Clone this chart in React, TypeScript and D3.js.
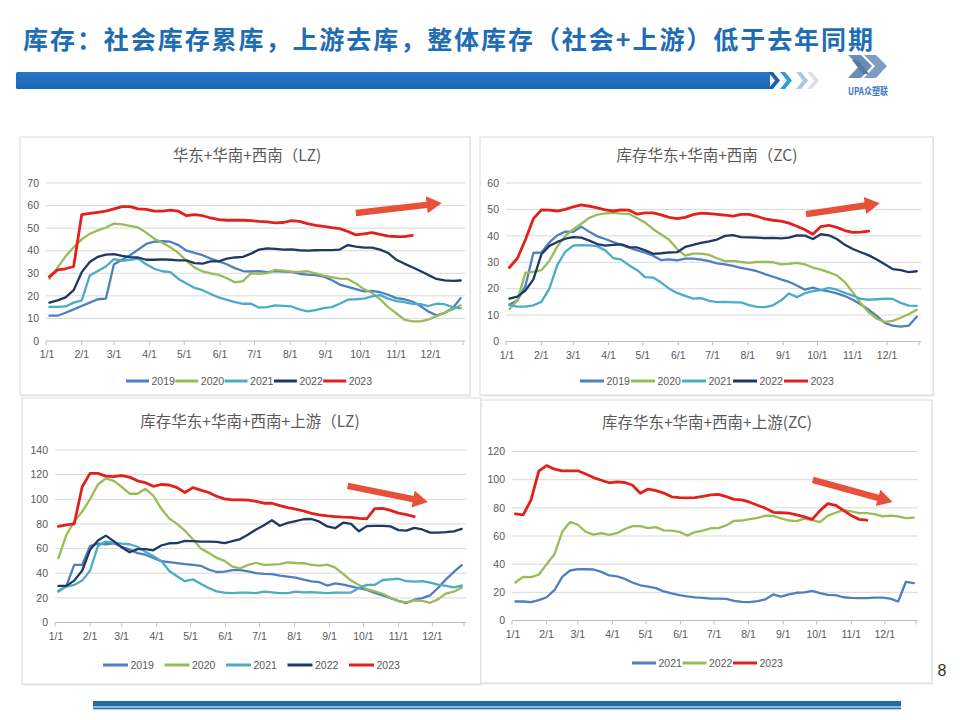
import React from "react";
import * as d3 from "d3";

// ---------- data ----------
const monthDays = [0, 31, 59, 90, 120, 151, 181, 212, 243, 273, 304, 334];
const monthLabels = ["1/1", "2/1", "3/1", "4/1", "5/1", "6/1", "7/1", "8/1", "9/1", "10/1", "11/1", "12/1"];
const firstWeekDay = 3;
const weekStep = 7;

const headerTitle = "库存：社会库存累库，上游去库，整体库存（社会+上游）低于去年同期";
const logoText = "UPA众塑联";
const pageNumber = "8";

const titleLZ = "华东+华南+西南（LZ)";
const titleZC = "库存华东+华南+西南（ZC)";
const titleLZU = "库存华东+华南+西南+上游（LZ)";
const titleZCU = "库存华东+华南+西南+上游(ZC)";

const yearsFive = ["2019", "2020", "2021", "2022", "2023"];
const yearsThree = ["2021", "2022", "2023"];

// 华东+华南+西南 (LZ)
const lz2019 = [11.2,11.2,12.5,14,15.5,17,18.5,18.8,34,36,38,40.5,43,44,44.2,44,42.5,40,39,38,36.5,35.3,34,32.3,31,30.8,31,30.5,31,30.8,30.6,29.8,29.4,29.2,28.5,27,25,24,23,22,22.2,21.6,20.5,19,18.5,17.5,15.5,13,11.4,12.5,14.5,19];
const lz2020 = [27.6,32.5,37.5,41.5,45,47.5,49,50.3,52,51.7,51,50.3,48,45.3,43.5,41.5,39,35.5,32.5,30.8,30,29.3,27.8,26,26.5,30,29.8,30.1,31.5,31.2,30.7,30.6,30.9,30,29,28.3,27.6,27.5,25.5,23,21.3,18.5,15,12.3,9.5,8.7,8.7,9.5,11,12.5,14,15.8];
const lz2021 = [15.1,15.1,15.3,17,18,29,31,33,36.3,35.5,36,36.5,34,32,30.9,30.5,27.5,25.5,23.5,22.5,20.8,19.3,18.2,17.2,16.5,16.5,14.8,15,15.8,15.6,15.3,14,13.1,13.7,14.6,15,16.5,18.3,18.5,18.8,19.8,20.3,18.8,17.7,17.2,16.5,16.3,15.5,16.5,16.3,15,14.5];
const lz2022 = [17,18,19.3,22.5,30.5,35,37.3,38.3,38.5,37.7,37.2,37,36,36,36.2,36,35.7,35.7,34.5,34.3,35.3,35.3,36.5,37,37.3,38.7,40.5,41,40.8,40.5,40.6,40.2,40,40.2,40.3,40.3,40.5,42.5,41.8,41.4,41.4,40.5,39,36,34.3,32.7,31,29.2,27.5,26.9,26.6,26.8];
const lz2023 = [28.5,31.5,32,33,56,56.5,57,57.5,58.5,59.5,59.5,58.5,58.3,57.5,57.5,58,57.5,55.5,56,55.5,54.5,53.8,53.5,53.5,53.5,53.3,53,52.8,52.3,52.5,53.3,53,52,51.2,50.8,50.2,49.8,48.5,47,47.5,48,47.2,46.5,46.3,46.2,46.8];

// 库存华东+华南+西南 (ZC)
const zc2019 = [14,15.5,21,33.5,33.7,37.5,40.2,41.6,41.5,43.5,41.5,39.8,38.8,37.6,36.6,35.5,34.5,33.6,32.5,30.8,31.1,30.7,31.4,31.4,31,30.4,29.6,29.2,28.6,27.9,27.3,26.6,25.5,24.5,23.5,22.6,21.2,19.6,20.4,19.5,19,18.2,17.2,15.8,14,12,9.7,7,6,5.6,6,9.4];
const zc2020 = [12.2,15.5,26,26.4,27,30.5,36,40,42.5,44.6,46.8,48,48.5,48.7,48.4,48.3,46.7,45,42.5,40.5,38.5,35,32.5,33.3,33.3,32.8,31.5,30.4,30.5,30.1,29.8,30.1,30.1,30,29.2,29.4,29.8,29.2,28,27.2,26.2,25,22.5,18.6,14.5,11,8.6,7.4,7.8,9,10.3,12];
const zc2021 = [13.8,13.2,13.2,13.7,15,20,29,34,36.3,36.5,36.4,36.1,34.5,31.6,31,28.8,27,24.4,24.2,22.3,20,18.4,17.3,16.2,16.4,15.4,14.9,15,14.8,14.8,13.8,13.1,13,13.7,15.5,18.2,16.8,18.3,19.1,19.5,20.3,19.6,18.4,17.4,16.1,15.8,16,16.2,16.1,14.6,13.6,13.5];
const zc2022 = [16.2,17,19.3,23.5,33,36.2,37.7,38.9,39.5,39.3,38.2,36.9,36.3,36.6,36.8,35.7,35.6,34.5,33.2,33.4,33.7,33.8,35.8,36.6,37.3,37.9,38.6,40,40.3,39.5,39.4,39.3,39.1,39.2,39,39.3,40.2,40.1,38.8,40.6,40.2,38.8,36.6,35,33.8,32.6,31,29.2,27.4,27,26.3,26.6];
const zc2023 = [28,31.5,38.5,46.5,49.8,49.7,49.4,50,51,51.7,51.2,50.6,49.8,49.4,49.8,49.7,48.2,48.7,48.7,47.9,47,46.5,47,48,48.6,48.4,48.1,47.8,47.5,48.1,48.1,47.4,46.4,45.9,45.6,44.8,43.6,42.3,40.6,43.5,44,43.2,42,41.3,41.4,41.8];

// 库存华东+华南+西南+上游 (LZ)
const lzu2019 = [25.1,29.5,46.8,46.8,62,64,63.5,64.3,61.5,59.3,56.3,55,52.3,49.7,49,48.2,47.3,46.8,46,43,41,41.3,42.5,42.5,41.5,40,39.5,39.2,38,37.3,36.5,34.8,33.3,32.7,30,31.8,30.8,29.3,27.8,26.4,24,22,19.8,17.5,15.8,18.5,19.8,22,28,35,41,46.5];
const lzu2020 = [52.2,71,82,90,100,112,117,115,110,104.5,104.5,108.5,103,92.5,84.5,80,74.5,67.5,60,56.5,52.5,50,45.3,44,46.8,48.5,46.8,47,47.3,48.8,48.3,48.1,46.8,46.2,47,44.5,39.5,34,30.5,27,25.2,23.3,20,17.2,16.3,18,17.5,16,18.8,23.5,25,28.5];
const lzu2021 = [25.7,29.2,30.5,34,42,62,65.7,64.9,64,63.5,61.5,57.5,54,50,42,37.5,33.5,35,31.5,28,25.3,24.2,23.8,24.3,24.2,23.8,25,24.5,23.8,23.8,25,24.4,24.6,24.3,23.8,24.3,24.3,24.3,28,30.5,30.5,34.5,35,35.5,33.5,33.2,33.5,32.3,30.7,29.8,28.5,30];
const lzu2022 = [29.7,29.7,34,42,59,66.5,70.5,66,61,57,59.5,59.5,58.6,62.5,64.3,64.5,66.2,66,65.7,65.7,65.5,64.5,66,67.7,71.5,75.5,79,83,78.5,80.8,82.3,83.8,84,81.8,78,76.5,81,80,74,78.2,78.4,78.5,78,75,74.5,76.8,75.5,73,73,73.3,74,76];
const lzu2023 = [78,79.3,80,110,121,121,118.8,118.4,119.3,118,115,113.5,110.5,112,111.6,109.5,105.5,109.5,107.5,105.5,102.5,100.3,99.6,99.5,99.3,98.3,96.8,96.8,94.8,93.2,92,90.5,88.5,87.3,86.5,86,85.5,85.3,84.5,84.2,92.5,92.7,91,88.8,87.5,86];

// 库存华东+华南+西南+上游 (ZC)
const zcu2021 = [13.5,13.5,13,14.5,16.5,21.5,31,35.5,36.4,36.4,36.2,34.5,32,31.4,29.5,27,25,24.1,23,20.6,19.2,18,17.1,16.4,16,15.5,15.6,15.3,14,13.2,13,13.7,15,18.5,17,18.6,19.7,19.9,21,19.5,18.2,18,16.5,16,15.9,15.9,16.2,16.3,15.5,13.5,27.5,26.5];
const zcu2022 = [27,31,30.8,32.5,40,47,63,70,68,63,61,62,60.8,62,65,67,67,65.6,66.3,64,63.8,63,60.3,62.8,63.8,65.5,65.6,67.5,70.8,71,72,72.8,74.4,74.3,72.5,71,70.5,72.3,71.3,69.8,74.5,76.5,78.4,77.5,76.3,76.2,75.5,74,74.5,74,72.7,73];
const zcu2023 = [75.7,75,85.5,106,110,107.5,106.3,106.3,106.3,104,101.5,99.6,97.8,98.5,98,96,90.3,93.3,92.2,90.5,87.8,87.3,87,87.2,88.2,89.2,89.6,88,86,85.7,84,81.8,79.8,76.8,76.5,76.2,75,73.6,71.8,78,83,81.8,78.2,74.5,71.8,71.2];

// trend arrows [day, value] start -> end
const arrowLZ = [[269, 56.7], [343.5, 61.1]];
const arrowZC = [[263, 48.2], [327.7, 52.3]];
const arrowLZU = [[259, 110.8], [330, 97.8]];
const arrowZCU = [[269.5, 99.9], [341, 84.2]];

// ---------- styles / layout ----------
const C2019 = "#4F7FBF";
const C2020 = "#9BBB59";
const C2021 = "#4BACC6";
const C2022 = "#1F3864";
const C2023 = "#E3201C";
const ARROW = "#E8503A";
const TEXT_GRAY = "#595959";
const GRID = "#D9D9D9";

const panels = [
  {
    title: titleLZ, titleX: 247, titleY: 161,
    box: [20, 137, 450, 258],
    x0: 46, x1: 463, yTop: 183, yBottom: 341, yMax: 70, yStep: 10,
    years: yearsFive, series: [lz2019, lz2020, lz2021, lz2022, lz2023],
    colors: [C2019, C2020, C2021, C2022, C2023],
    legendY: 381, legendX: 126, legendStep: 49.3, legendLine: 23,
    arrow: arrowLZ,
  },
  {
    title: titleZC, titleX: 707, titleY: 161,
    box: [480, 137, 453, 258],
    x0: 506, x1: 919, yTop: 183, yBottom: 341.5, yMax: 60, yStep: 10,
    years: yearsFive, series: [zc2019, zc2020, zc2021, zc2022, zc2023],
    colors: [C2019, C2020, C2021, C2022, C2023],
    legendY: 381, legendX: 580, legendStep: 51, legendLine: 24,
    arrow: arrowZC,
  },
  {
    title: titleLZU, titleX: 250, titleY: 427,
    box: [22, 398, 459, 286],
    x0: 55, x1: 464, yTop: 450, yBottom: 622.5, yMax: 140, yStep: 20,
    years: yearsFive, series: [lzu2019, lzu2020, lzu2021, lzu2022, lzu2023],
    colors: [C2019, C2020, C2021, C2022, C2023],
    legendY: 665, legendX: 103, legendStep: 61.5, legendLine: 25,
    arrow: arrowLZU,
  },
  {
    title: titleZCU, titleX: 707, titleY: 427.5,
    box: [481, 400, 451, 283],
    x0: 512, x1: 916, yTop: 451.5, yBottom: 620.5, yMax: 120, yStep: 20,
    years: yearsThree, series: [zcu2021, zcu2022, zcu2023],
    colors: [C2019, C2020, C2023],
    legendY: 663, legendX: 632, legendStep: 50.5, legendLine: 24,
    arrow: arrowZCU,
  },
];

const NUM_FONT = "'Liberation Sans', Arial, sans-serif";
const CJK_FONT = "'Noto Sans CJK SC', 'Noto Sans', sans-serif";

function Arrow({ p0, p1 }: { p0: number[]; p1: number[] }) {
  const dx = p1[0] - p0[0];
  const dy = p1[1] - p0[1];
  const len = Math.hypot(dx, dy);
  const ux = dx / len, uy = dy / len;
  const nx = -uy, ny = ux;
  const headLen = 15, headHalf = 8.5, shaftHalf = 3.2;
  const bx = p1[0] - ux * headLen, by = p1[1] - uy * headLen;
  const pts = [
    [p0[0] + nx * shaftHalf, p0[1] + ny * shaftHalf],
    [bx + nx * shaftHalf, by + ny * shaftHalf],
    [bx + nx * headHalf, by + ny * headHalf],
    [p1[0], p1[1]],
    [bx - nx * headHalf, by - ny * headHalf],
    [bx - nx * shaftHalf, by - ny * shaftHalf],
    [p0[0] - nx * shaftHalf, p0[1] - ny * shaftHalf],
  ];
  return <polygon points={pts.map((p) => p.join(",")).join(" ")} fill={ARROW} />;
}

function Panel({ cfg }: { cfg: any }) {
  const x = d3.scaleLinear().domain([0, 362]).range([cfg.x0, cfg.x1]);
  const y = d3.scaleLinear().domain([0, cfg.yMax]).range([cfg.yBottom, cfg.yTop]);
  const yTicks = d3.range(0, cfg.yMax + 0.001, cfg.yStep);
  const line = d3
    .line<number>()
    .x((_, i) => x(firstWeekDay + weekStep * i))
    .y((d) => y(d));
  const [bx, by, bw, bh] = cfg.box;
  const gridEnd = cfg.x1 + 2;
  const a0 = [x(cfg.arrow[0][0]), y(cfg.arrow[0][1])];
  const a1 = [x(cfg.arrow[1][0]), y(cfg.arrow[1][1])];
  return (
    <g>
      <rect x={bx + 1} y={by + 1.5} width={bw} height={bh} fill="#EDEDED" />
      <rect x={bx} y={by} width={bw} height={bh} fill="#fff" stroke={GRID} strokeWidth={1} />
      <text x={cfg.titleX} y={cfg.titleY} textAnchor="middle" fontFamily={CJK_FONT} fontSize={15.5} fill={TEXT_GRAY}>
        {cfg.title}
      </text>
      {yTicks.map((t: number) => (
        <g key={t}>
          {t > 0 && <line x1={cfg.x0} x2={gridEnd} y1={y(t)} y2={y(t)} stroke={GRID} strokeWidth={1} />}
          <text x={cfg.x0 - 7} y={y(t) + 3.7} textAnchor="end" fontFamily={NUM_FONT} fontSize={10.5} fill={TEXT_GRAY}>
            {t}
          </text>
        </g>
      ))}
      <line x1={cfg.x0} x2={gridEnd} y1={y(0)} y2={y(0)} stroke="#BFBFBF" strokeWidth={1} />
      {monthDays.concat([362]).map((d, i) => (
        <line key={"t" + i} x1={x(d)} x2={x(d)} y1={y(0)} y2={y(0) + 4} stroke="#BFBFBF" strokeWidth={1} />
      ))}
      {monthDays.map((d, i) => (
        <text key={"l" + i} x={x(d) + (i === 0 ? 1 : 0)} y={y(0) + 17} textAnchor="middle" fontFamily={NUM_FONT} fontSize={10.5} fill={TEXT_GRAY}>
          {monthLabels[i]}
        </text>
      ))}
      {cfg.series.map((s: number[], i: number) => (
        <path
          key={"s" + i}
          d={line(s) || ""}
          fill="none"
          stroke={cfg.colors[i]}
          strokeWidth={cfg.colors[i] === C2023 ? 2.8 : 2.3}
          strokeLinejoin="round"
          strokeLinecap="round"
        />
      ))}
      <Arrow p0={a0} p1={a1} />
      {cfg.years.map((yr: string, i: number) => {
        const lx = cfg.legendX + i * cfg.legendStep;
        return (
          <g key={"lg" + i}>
            <line x1={lx} x2={lx + cfg.legendLine} y1={cfg.legendY} y2={cfg.legendY} stroke={cfg.colors[i]} strokeWidth={3} />
            <text x={lx + cfg.legendLine + 2.5} y={cfg.legendY + 3.7} fontFamily={NUM_FONT} fontSize={10.5} fill={TEXT_GRAY}>
              {yr}
            </text>
          </g>
        );
      })}
    </g>
  );
}

function chevron(x: number, top: number, bottom: number, w: number, depth: number) {
  const mid = (top + bottom) / 2;
  return [
    [x, top], [x + w, top], [x + w + depth, mid], [x + w, bottom], [x, bottom], [x + depth, mid],
  ].map((p) => p.join(",")).join(" ");
}

export default function App() {
  const chevronColors = ["#1A62B2", "#2E9BDA", "#A9C9E8", "#D3E3F3"];
  const chevronX = [768, 780, 796, 807];
  return (
    <svg width={960} height={720} style={{ position: "absolute", left: 0, top: 0, background: "#fff" }}>
      <rect x={0} y={0} width={960} height={720} fill="#fff" />
      {/* header */}
      <text x={23} y={49} fontFamily={CJK_FONT} fontWeight={700} fontSize={25} fill="#1F6DB4" textLength={850} lengthAdjust="spacing">
        {headerTitle}
      </text>
      <defs>
        <linearGradient id="barGrad" x1="0" y1="0" x2="0" y2="1">
          <stop offset="0" stopColor="#2677C6" />
          <stop offset="1" stopColor="#1A66B3" />
        </linearGradient>
      </defs>
      <rect x={16} y={72} width={754} height={17} fill="url(#barGrad)" rx={1.5} />
      {chevronColors.map((c, i) => (
        <polygon key={i} points={chevron(chevronX[i], 72, 89, 5, 7)} fill={c} />
      ))}
      {/* logo */}
      <g fill="#6A8DB8">
        <polygon points="848,55 861,55 872,66 861,78 848,78 859,66" />
        <polygon points="864,55 876,55 887,66 876,78 864,78 875,66" fill="#7F9CC4" />
        <polygon points="852,60 858,60 869,74 863,74" fill="#56799F" />
      </g>
      <text x={868} y={95} textAnchor="middle" fontFamily={CJK_FONT} fontSize={10} fontWeight={700} fill="#3B78C2" textLength={40} lengthAdjust="spacingAndGlyphs">
        {logoText}
      </text>

      {panels.map((p, i) => (
        <Panel key={i} cfg={p} />
      ))}

      <text x={942} y={676} textAnchor="middle" fontFamily={NUM_FONT} fontSize={16} fill="#333">
        {pageNumber}
      </text>
      {/* footer */}
      <rect x={93} y={701} width={808} height={5.5} fill="#1F6DB0" />
      <rect x={93} y={707.5} width={808} height={1.8} fill="#2C6FAE" />
    </svg>
  );
}
